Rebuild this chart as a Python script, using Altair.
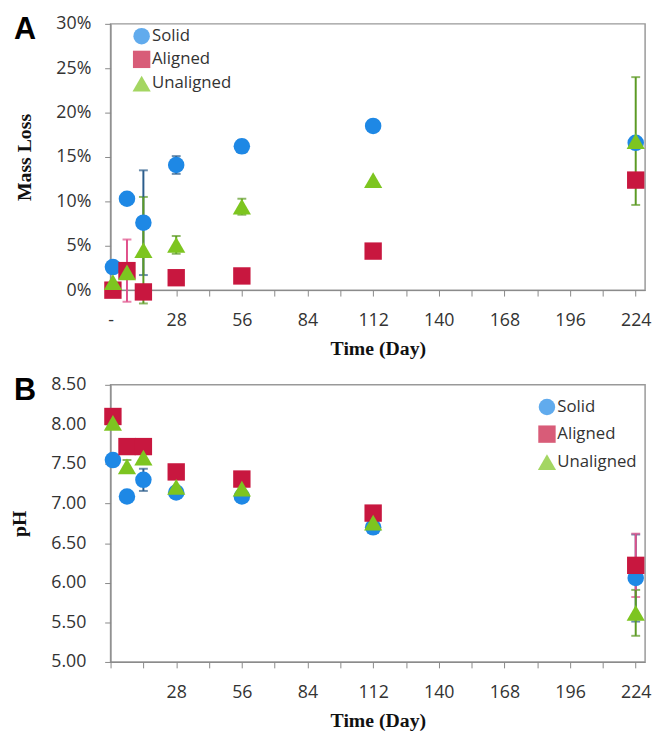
import altair as alt
import pandas as pd

# ---------------- data ----------------
days = [1, 7, 14, 28, 56, 112, 224]
groups = ["Solid", "Aligned", "Unaligned"]

mass_solid = [2.6, 10.3, 7.6, 14.1, 16.2, 18.5, 16.6]
mass_solid_err = [0, 0, 5.9, 1.0, 0.7, 0, 0]
mass_aligned = [0.0, 2.2, -0.2, 1.4, 1.6, 4.4, 12.4]
mass_aligned_err = [0, 3.5, 0, 0, 0, 0, 0]
mass_unaligned = [0.9, 2.0, 4.5, 5.1, 9.4, 12.4, 16.8]
mass_unaligned_err = [0, 0, 6.0, 1.0, 0.9, 0, 7.2]

ph_solid = [7.55, 7.09, 7.30, 7.14, 7.09, 6.70, 6.06]
ph_solid_err = [0, 0, 0.14, 0, 0, 0, 0.55]
ph_aligned = [8.10, 7.72, 7.72, 7.40, 7.31, 6.88, 6.22]
ph_aligned_err = [0, 0, 0, 0, 0, 0, 0.40]
ph_unaligned = [8.02, 7.47, 7.58, 7.21, 7.19, 6.76, 5.62]
ph_unaligned_err = [0, 0.08, 0, 0, 0, 0, 0.29]

mass_ticks = [0, 5, 10, 15, 20, 25, 30]
ph_ticks = [5.0, 5.5, 6.0, 6.5, 7.0, 7.5, 8.0, 8.5]
day_ticks = list(range(0, 225, 14))
panel_letters = ["A", "B"]

marker_colors = ["#1e88e5", "#c8173f", "#7dc520"]
err_colors = ["#2b5d8c", "#e0508a", "#5c9a24"]
marker_shapes = ["circle", "square", "triangle-up"]
marker_sizes = [280, 340, 400]


def build_frames(series, errs):
    pts, ers = [], []
    for g, vals, es, ec in zip(groups, series, errs, err_colors):
        for d, v, e in zip(days, vals, es):
            pts.append({"day": d, "group": g, "value": v})
            if e > 0:
                ers.append({"day": d, "group": g, "lo": v - e, "hi": v + e, "ecolor": ec})
    return pd.DataFrame(pts), pd.DataFrame(ers)


LABEL_FONT = "Open Sans"
TITLE_FONT = "Liberation Serif"


def panel(series, errs, y_domain, y_ticks, y_label_expr, y_title, x_label_expr,
          letter, legend_x, legend_y, row_pad, height, y_label_pad):
    pts, ers = build_frames(series, errs)
    x_scale = alt.Scale(domain=[0, 228], nice=False, zero=False)
    y_scale = alt.Scale(domain=y_domain, nice=False, zero=False)
    x_axis = alt.Axis(values=day_ticks, labelExpr=x_label_expr, grid=False,
                      tickSize=6, tickColor="#888", domainColor="#888",
                      labelFont=LABEL_FONT, labelFontSize=18, labelColor="#333",
                      labelPadding=16, labelFlush=False, labelOverlap=False,
                      title="Time (Day)", titleFont=TITLE_FONT, titleFontSize=20,
                      titleFontWeight="bold", titleColor="#111", titlePadding=9)
    y_axis = alt.Axis(values=y_ticks, labelExpr=y_label_expr, grid=False,
                      tickSize=6, tickColor="#888", domainColor="#888",
                      labelFont=LABEL_FONT, labelFontSize=18, labelColor="#333",
                      labelPadding=y_label_pad, labelFlush=False, labelOverlap=False,
                      title=y_title, titleFont=TITLE_FONT, titleFontSize=20,
                      titleFontWeight="bold", titleColor="#111", titlePadding=22)
    legend = alt.Legend(orient="none", legendX=legend_x, legendY=legend_y, title=None,
                        labelFont=LABEL_FONT, labelFontSize=17, labelColor="#333",
                        symbolSize=150, symbolStrokeWidth=0, rowPadding=row_pad,
                        labelOffset=1)

    err = alt.Chart(ers).mark_errorbar(ticks={"size": 9, "thickness": 2}, thickness=2).encode(
        x=alt.X("day:Q", scale=x_scale, axis=x_axis),
        y=alt.Y("lo:Q", scale=y_scale, axis=y_axis),
        y2="hi:Q",
        color=alt.Color("ecolor:N", scale=None),
    )
    dots = alt.Chart(pts).mark_point(filled=True, opacity=1, strokeWidth=0).encode(
        x=alt.X("day:Q", scale=x_scale, axis=x_axis),
        y=alt.Y("value:Q", scale=y_scale, axis=y_axis),
        color=alt.Color("group:N", scale=alt.Scale(domain=groups, range=marker_colors), legend=legend),
        shape=alt.Shape("group:N", scale=alt.Scale(domain=groups, range=marker_shapes), legend=legend),
        size=alt.Size("group:N", scale=alt.Scale(domain=groups, range=marker_sizes), legend=None),
    )
    tag = alt.Chart(pd.DataFrame({"t": [letter]})).mark_text(
        font="Liberation Sans", fontSize=31, fontWeight="bold", color="#000",
        align="left", baseline="top",
    ).encode(text="t:N", x=alt.value(-98), y=alt.value(-9))
    return alt.layer(err, dots, tag).properties(width=542, height=height)


chart_a = panel([mass_solid, mass_aligned, mass_unaligned],
                [mass_solid_err, mass_aligned_err, mass_unaligned_err],
                [0, 30], mass_ticks, "datum.value + '%'", "Mass Loss",
                "datum.value == 0 ? '-' : (datum.value % 28 == 0 ? datum.label : '')",
                panel_letters[0], 22, 4, 6, 270, 14)
chart_b = panel([ph_solid, ph_aligned, ph_unaligned],
                [ph_solid_err, ph_aligned_err, ph_unaligned_err],
                [5.0, 8.5], ph_ticks, "format(datum.value, '.2f')", "pH",
                "datum.value > 0 && datum.value % 28 == 0 ? datum.label : ''",
                panel_letters[1], 433, 14, 10, 281, 19)

chart = alt.vconcat(chart_a, chart_b, spacing=15, padding=0).resolve_scale(
    color="independent", shape="independent", size="independent"
).configure(padding=0).configure_view(
    stroke="#999", strokeWidth=1.5
)

chart.save("out.html", embed_options={"renderer": "svg", "actions": False})
